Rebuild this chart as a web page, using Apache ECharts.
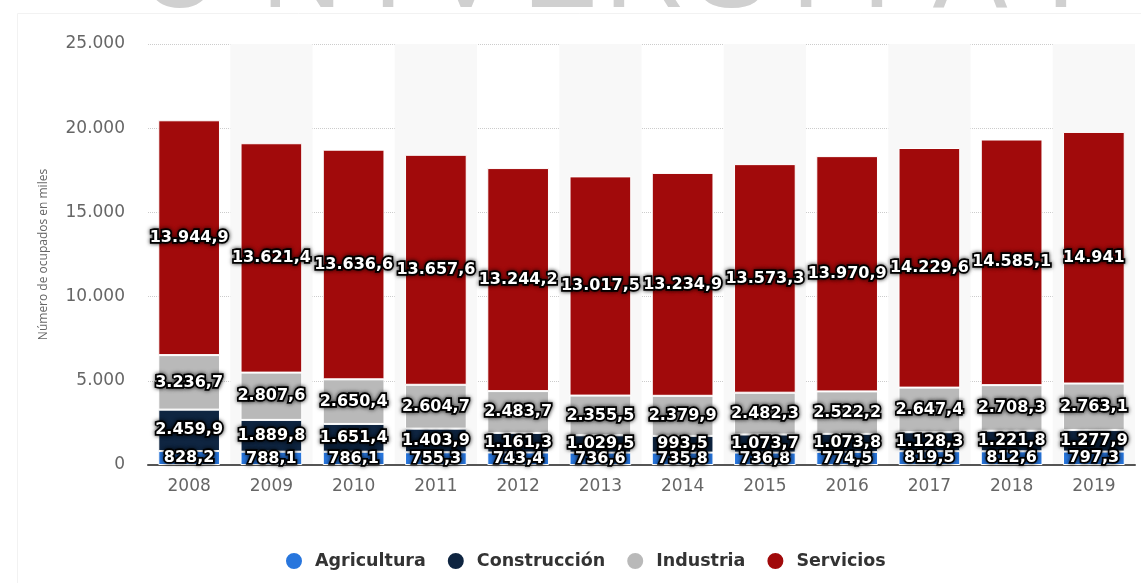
<!DOCTYPE html>
<html lang="es">
<head>
<meta charset="utf-8">
<title>Ocupados por sector</title>
<script src="https://cdn.jsdelivr.net/npm/echarts@6/dist/echarts.min.js"></script>
<style>
  html, body { margin: 0; padding: 0; background: #ffffff; }
  #chart { width: 1141px; height: 583px; }
</style>
</head>
<body>
<div id="chart"></div>
<script>
// Años (categorías del eje X)
const years = ['2008', '2009', '2010', '2011', '2012', '2013', '2014', '2015', '2016', '2017', '2018', '2019'];

// Ocupados por sector, en miles
const agricultura = [828.2, 788.1, 786.1, 755.3, 743.4, 736.6, 735.8, 736.8, 774.5, 819.5, 812.6, 797.3];
const construccion = [2459.9, 1889.8, 1651.4, 1403.9, 1161.3, 1029.5, 993.5, 1073.7, 1073.8, 1128.3, 1221.8, 1277.9];
const industria = [3236.7, 2807.6, 2650.4, 2604.7, 2483.7, 2355.5, 2379.9, 2482.3, 2522.2, 2647.4, 2708.3, 2763.1];
const servicios = [13944.9, 13621.4, 13636.6, 13657.6, 13244.2, 13017.5, 13234.9, 13573.3, 13970.9, 14229.6, 14585.1, 14941];

// Nombres de las series
const seriesNames = ['Agricultura', 'Construcción', 'Industria', 'Servicios'];

// Letras de la marca de agua superior
const watermarkLetters = ['U', 'N', 'I', 'V', 'E', 'R', 'S', 'I', 'T', 'A', 'T'];

// Formato numérico español: punto de miles, coma decimal
function fmt(v) {
  const parts = String(v).split('.');
  const ent = parts[0].replace(/\B(?=(\d{3})+(?!\d))/g, '.');
  return parts.length > 1 ? ent + ',' + parts[1] : ent;
}

const colors = ['#2876dd', '#0f2541', '#b9b9b9', '#a10a0b'];
const font = '"DejaVu Sans", Verdana, sans-serif';

const labelStyle = {
  show: true,
  position: 'inside',
  color: '#ffffff',
  fontFamily: font,
  fontWeight: 'bold',
  fontSize: 16,
  textBorderColor: '#000000',
  textBorderWidth: 3.5,
  textShadowColor: 'rgba(0,0,0,0.7)',
  textShadowBlur: 4,
  formatter: p => fmt(p.value)
};

function makeSeries(name, data, color) {
  return {
    name: name,
    type: 'bar',
    stack: 'total',
    data: data,
    barCategoryGap: '25%',
    itemStyle: { color: color, borderColor: '#ffffff', borderWidth: 1 },
    label: labelStyle,
    emphasis: { disabled: true }
  };
}

// Posiciones horizontales de las letras de la marca de agua
const letterX = [180, 302, 388, 466, 560, 645, 731, 806, 877, 970, 1061];

const graphicElements = watermarkLetters.map((ch, i) => ({
  type: 'text',
  z: -2,
  x: letterX[i],
  y: 32,
  style: {
    text: ch,
    fill: '#d0d0d0',
    fontSize: 112,
    fontFamily: '"Liberation Sans", Arial, sans-serif',
    align: 'center',
    verticalAlign: 'bottom'
  }
}));

// Panel blanco que contiene el gráfico
graphicElements.push({
  type: 'rect',
  z: -1,
  shape: { x: 17.5, y: 13.5, width: 1200, height: 700 },
  style: { fill: '#ffffff', stroke: '#f2f2f2', lineWidth: 1 }
});

const chart = echarts.init(document.getElementById('chart'), null, { renderer: 'canvas' });

chart.setOption({
  animation: false,
  backgroundColor: '#ffffff',
  graphic: { elements: graphicElements },
  grid: { left: 148, right: 6, top: 44, bottom: 118, containLabel: false },
  legend: {
    data: seriesNames,
    bottom: 7,
    left: 279,
    icon: 'circle',
    itemWidth: 18,
    itemHeight: 18,
    itemGap: 20,
    selectedMode: false,
    textStyle: { color: '#333333', fontFamily: font, fontWeight: 'bold', fontSize: 17.5, padding: [0, 0, 0, 7] }
  },
  xAxis: {
    type: 'category',
    data: years,
    axisTick: { show: false },
    axisLine: { show: true, lineStyle: { color: '#555555', width: 2 } },
    axisLabel: { color: '#666666', fontFamily: font, fontSize: 17, margin: 13 },
    splitArea: { show: true, areaStyle: { color: ['rgba(255,255,255,0)', '#f8f8f8'] } }
  },
  yAxis: {
    type: 'value',
    min: 0,
    max: 25000,
    interval: 5000,
    name: 'Número de ocupados en miles',
    nameLocation: 'middle',
    nameGap: 98,
    nameTextStyle: { color: '#666666', fontFamily: '"Open Sans", sans-serif', fontSize: 12 },
    axisLine: { show: false },
    axisTick: { show: false },
    axisLabel: { color: '#666666', fontFamily: font, fontSize: 17, margin: 23, formatter: v => fmt(v) },
    splitLine: { show: true, lineStyle: { color: '#cccccc', type: 'dotted', width: 1 } }
  },
  series: [
    makeSeries(seriesNames[0], agricultura, colors[0]),
    makeSeries(seriesNames[1], construccion, colors[1]),
    makeSeries(seriesNames[2], industria, colors[2]),
    makeSeries(seriesNames[3], servicios, colors[3])
  ]
});
</script>
</body>
</html>
